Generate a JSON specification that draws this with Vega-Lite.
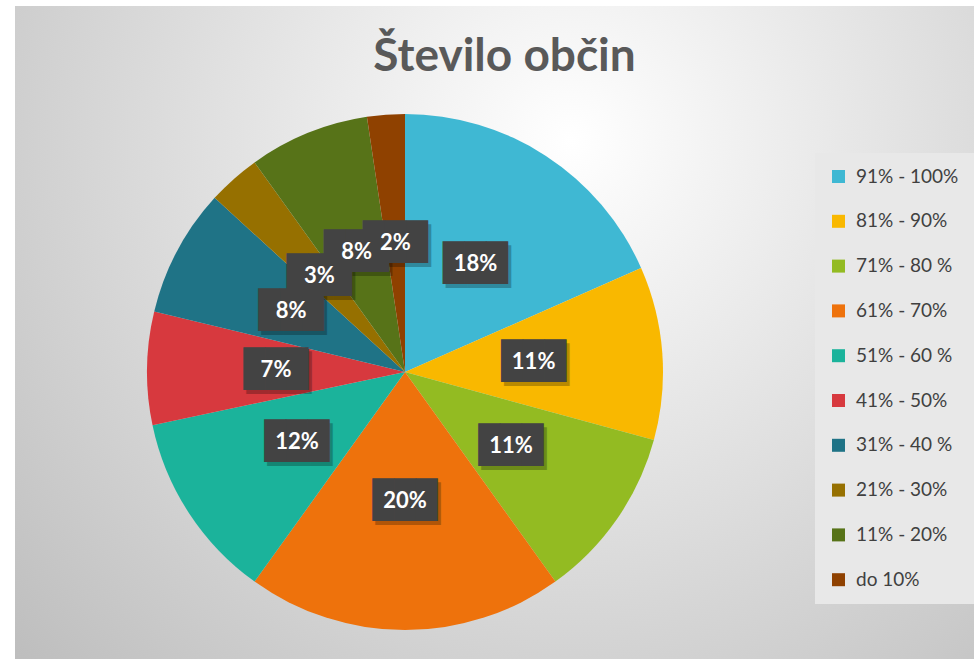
{
  "$schema": "https://vega.github.io/schema/vega-lite/v6.json",
  "width": 959,
  "height": 653,
  "padding": {"left": 15, "top": 6, "right": 0, "bottom": 0},
  "autosize": {"type": "none"},
  "background": "#ffffff",
  "config": {"view": {"stroke": null}},
  "title": {
    "text": "Število občin",
    "font": "Lato",
    "fontSize": 46,
    "fontWeight": "bold",
    "color": "#595959",
    "anchor": "middle",
    "frame": "group",
    "baseline": "alphabetic",
    "offset": -111,
    "dx": 10
  },
  "data": {
    "values": [
      {"razred": "91%  - 100%", "obcine": 39, "delez": "18%", "rank": 1},
      {"razred": "81% - 90%", "obcine": 23, "delez": "11%", "rank": 2},
      {"razred": "71% - 80 %", "obcine": 23, "delez": "11%", "rank": 3},
      {"razred": "61% - 70%", "obcine": 42, "delez": "20%", "rank": 4},
      {"razred": "51% - 60 %", "obcine": 25, "delez": "12%", "rank": 5},
      {"razred": "41% - 50%", "obcine": 15, "delez": "7%", "rank": 6},
      {"razred": "31% - 40 %", "obcine": 17, "delez": "8%", "rank": 7},
      {"razred": "21% - 30%", "obcine": 7, "delez": "3%", "rank": 8},
      {"razred": "11% - 20%", "obcine": 16, "delez": "8%", "rank": 9},
      {"razred": "do 10%", "obcine": 5, "delez": "2%", "rank": 10}
    ]
  },
  "layer": [
    {
      "data": {"values": [{}]},
      "mark": {
        "type": "rect",
        "fill": {
          "gradient": "radial",
          "x1": 0.58, "y1": 0.3, "r1": 0,
          "x2": 0.58, "y2": 0.3, "r2": 0.8,
          "stops": [
            {"offset": 0, "color": "#ffffff"},
            {"offset": 1, "color": "#bdbdbd"}
          ]
        }
      },
      "encoding": {}
    },
    {
      "mark": {"type": "arc", "outerRadius": 258, "x": 390, "y": 366},
      "encoding": {
        "theta": {"field": "obcine", "type": "quantitative", "stack": true},
        "order": {"field": "rank", "type": "quantitative"},
        "color": {
          "field": "razred",
          "type": "nominal",
          "sort": null,
          "scale": {
            "domain": ["91%  - 100%", "81% - 90%", "71% - 80 %", "61% - 70%", "51% - 60 %", "41% - 50%", "31% - 40 %", "21% - 30%", "11% - 20%", "do 10%"],
            "range": ["#3fb8d3", "#f9b800", "#93bb22", "#ee720c", "#1bb39b", "#d7393e", "#1f7386", "#967000", "#577318", "#8f4100"]
          },
          "legend": {
            "orient": "none",
            "legendX": 800,
            "legendY": 147,
            "title": null,
            "symbolType": "square",
            "symbolSize": 169,
            "symbolStrokeWidth": 0,
            "labelFont": "Lato",
            "labelFontSize": 19,
            "labelColor": "#404040",
            "labelOffset": 8,
            "rowPadding": 24.8,
            "fillColor": "#e8e8e8",
            "padding": 14
          }
        }
      }
    },
    {
      "mark": {"type": "text", "text": "███", "font": "DejaVu Sans Mono", "fontSize": 36, "color": "#000000", "opacity": 0.25, "radius": 129, "x": 390, "y": 366, "dx": 3, "dy": 4, "baseline": "middle"},
      "encoding": {
        "theta": {"field": "obcine", "type": "quantitative", "stack": true},
        "order": {"field": "rank", "type": "quantitative"}
      }
    },
    {
      "mark": {"type": "text", "text": "███", "font": "DejaVu Sans Mono", "fontSize": 36, "color": "#434343", "radius": 129, "x": 390, "y": 366, "baseline": "middle"},
      "encoding": {
        "theta": {"field": "obcine", "type": "quantitative", "stack": true},
        "order": {"field": "rank", "type": "quantitative"}
      }
    },
    {
      "mark": {"type": "text", "font": "Lato", "fontSize": 22, "fontWeight": "bold", "color": "#ffffff", "radius": 129, "x": 390, "y": 366, "baseline": "middle"},
      "encoding": {
        "theta": {"field": "obcine", "type": "quantitative", "stack": true},
        "order": {"field": "rank", "type": "quantitative"},
        "text": {"field": "delez", "type": "nominal"}
      }
    }
  ]
}
